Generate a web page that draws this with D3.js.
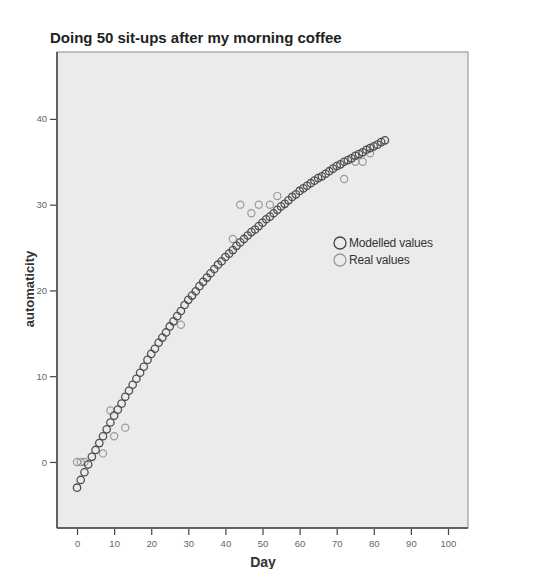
<!DOCTYPE html>
<html>
<head>
<meta charset="utf-8">
<script src="https://cdn.jsdelivr.net/npm/d3@7"></script>
<style>
body { margin: 0; background: #fff; }
svg text { font-family: "Liberation Sans", Arial, sans-serif; }
</style>
</head>
<body>
<svg width="541" height="569"></svg>
<script>
// modelled values, one per day 0..83
var modelDays = d3.range(0, 84);
var modelVals = [-3.0, -2.1, -1.2, -0.3, 0.6, 1.4, 2.2, 3.0, 3.8, 4.6,
    5.4, 6.1, 6.8, 7.6, 8.3, 9.0, 9.7, 10.4, 11.1, 11.9,
    12.6, 13.2, 13.9, 14.5, 15.1, 15.8, 16.4, 17.0, 17.6, 18.3,
    18.9, 19.4, 19.9, 20.5, 21.0, 21.5, 22.0, 22.5, 23.0, 23.4,
    23.9, 24.3, 24.7, 25.2, 25.6, 26.0, 26.4, 26.8, 27.1, 27.5,
    27.9, 28.3, 28.6, 29.0, 29.4, 29.8, 30.1, 30.5, 30.9, 31.2,
    31.6, 31.9, 32.2, 32.5, 32.8, 33.1, 33.3, 33.6, 33.9, 34.2,
    34.5, 34.7, 35.0, 35.2, 35.4, 35.7, 35.9, 36.1, 36.4, 36.6,
    36.8, 37.0, 37.3, 37.5];

// real observations
var realDays = [0, 1, 2, 7, 9, 10, 13, 28, 42, 44, 47, 49, 52, 54, 72, 75, 77, 79];
var realVals = [0, 0, 0, 1, 6, 3, 4, 16, 26, 30, 29, 30, 30, 31, 33, 35, 35, 36];

var xTicks = [0, 10, 20, 30, 40, 50, 60, 70, 80, 90, 100];
var yTicks = [0, 10, 20, 30, 40];
var legendLabels = ["Modelled values", "Real values"];

var svg = d3.select("svg"),
    pLeft = 57, pRight = 468, pTop = 52, pBottom = 528;

var x = d3.scaleLinear().domain([-5.4, 105.4]).range([pLeft, pRight]);
var y = d3.scaleLinear().domain([-7.7, 47.8]).range([pBottom, pTop]);

// panel
svg.append("rect")
    .attr("x", pLeft).attr("y", pTop)
    .attr("width", pRight - pLeft).attr("height", pBottom - pTop)
    .attr("fill", "#ebebeb")
    .attr("stroke", "#888")
    .attr("stroke-width", 1);
svg.append("line")  // heavier left edge
    .attr("x1", pLeft).attr("x2", pLeft).attr("y1", pTop).attr("y2", pBottom)
    .attr("stroke", "#444").attr("stroke-width", 1.5);
svg.append("line")  // heavier bottom edge
    .attr("x1", pLeft).attr("x2", pRight).attr("y1", pBottom).attr("y2", pBottom)
    .attr("stroke", "#444").attr("stroke-width", 1.5);

// axes
var xAxis = svg.append("g")
    .attr("transform", "translate(0," + (pBottom + 1) + ")")
    .call(d3.axisBottom(x).tickValues(xTicks).tickSize(6).tickPadding(5));
var yAxis = svg.append("g")
    .attr("transform", "translate(" + (pLeft - 1) + ",0)")
    .call(d3.axisLeft(y).tickValues(yTicks).tickSize(6).tickPadding(3));

[xAxis, yAxis].forEach(function(a) {
    a.select(".domain").remove();
    a.selectAll(".tick line").attr("stroke", "#444").attr("stroke-width", 1.2);
    a.selectAll(".tick text")
        .attr("fill", "#666")
        .attr("font-size", 9.5)
        .style("font-family", "'Liberation Sans', Arial, sans-serif");
});

// real values
svg.append("g").selectAll("circle")
    .data(realDays)
    .enter().append("circle")
    .attr("cx", function(d) { return x(d); })
    .attr("cy", function(d, i) { return y(realVals[i]); })
    .attr("r", 3.6)
    .attr("fill", "none")
    .attr("stroke", "#9a9a9a")
    .attr("stroke-width", 1.2);

// modelled values
svg.append("g").selectAll("circle")
    .data(modelDays)
    .enter().append("circle")
    .attr("cx", function(d) { return x(d); })
    .attr("cy", function(d, i) { return y(modelVals[i]); })
    .attr("r", 3.7)
    .attr("fill", "none")
    .attr("stroke", "#505050")
    .attr("stroke-width", 1.3);

// legend
var legend = svg.append("g")
    .selectAll("g")
    .data(legendLabels)
    .enter().append("g")
    .attr("transform", function(d, i) { return "translate(340," + (243 + i * 17) + ")"; });
legend.append("circle")
    .attr("r", 6)
    .attr("fill", "none")
    .attr("stroke", function(d, i) { return i === 0 ? "#444" : "#9a9a9a"; })
    .attr("stroke-width", 1.3);
legend.append("text")
    .attr("x", 9)
    .attr("dy", "0.35em")
    .attr("font-size", 12)
    .attr("fill", "#333")
    .attr("letter-spacing", -0.2)
    .text(function(d) { return d; });

// titles
svg.append("text")
    .attr("x", 50).attr("y", 43)
    .attr("font-size", 15)
    .attr("font-weight", "bold")
    .attr("fill", "#222")
    .text("Doing 50 sit-ups after my morning coffee");

svg.append("text")
    .attr("x", 263).attr("y", 567)
    .attr("text-anchor", "middle")
    .attr("font-size", 14)
    .attr("font-weight", "bold")
    .attr("fill", "#333")
    .text("Day");

svg.append("text")
    .attr("transform", "translate(34,289) rotate(-90)")
    .attr("text-anchor", "middle")
    .attr("font-size", 13)
    .attr("font-weight", "bold")
    .attr("fill", "#333")
    .text("automaticity");
</script>
</body>
</html>
